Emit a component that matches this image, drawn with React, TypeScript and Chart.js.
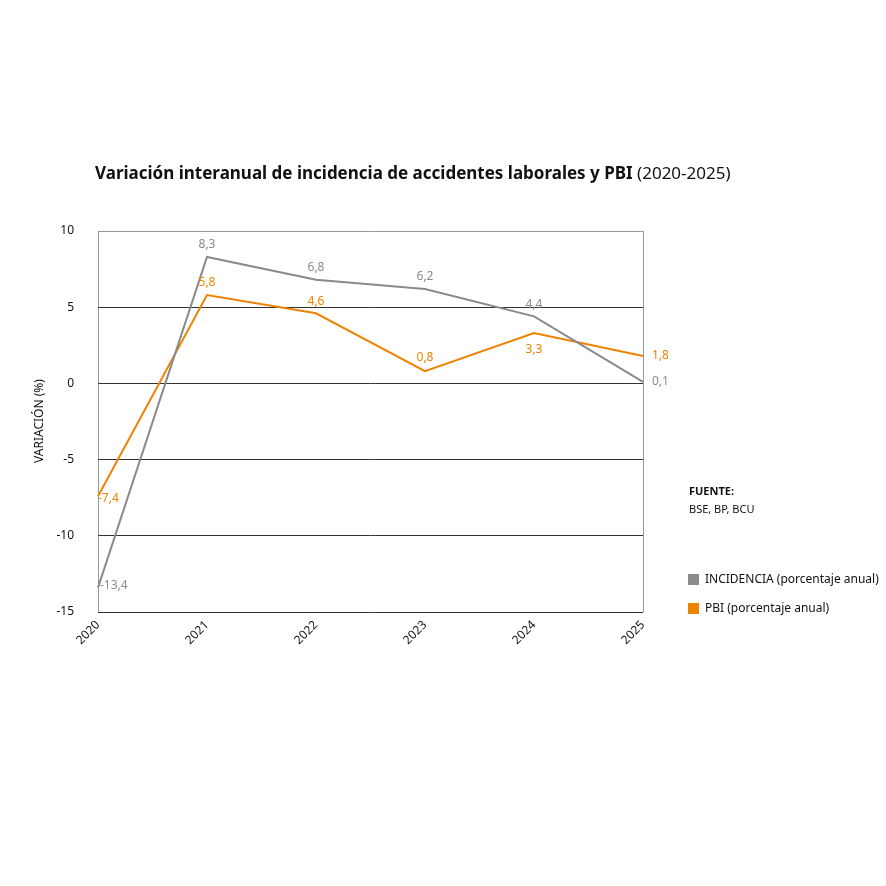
import React, { useEffect, useRef } from "react";
import { Chart, registerables } from "chart.js";
Chart.register(...registerables);

const years = ["2020", "2021", "2022", "2023", "2024", "2025"];
const incidencia = [-13.4, 8.3, 6.8, 6.2, 4.4, 0.1];
const pbi = [-7.4, 5.8, 4.6, 0.8, 3.3, 1.8];
const yTicks = [10, 5, 0, -5, -10, -15];

const GRAY = "#8a8a8a";
const ORANGE = "#ef8200";
const FONT = "'Noto Sans', sans-serif";
// label offsets [dx, dy, align]
const incOff: [number, number, CanvasTextAlign][] = [[2, -2, "left"], [0, -12, "center"], [0, -12, "center"], [0, -12, "center"], [0, -12, "center"], [9, 0, "left"]];
const pbiOff: [number, number, CanvasTextAlign][] = [[0, 2, "left"], [0, -12, "center"], [0, -12, "center"], [0, -14, "center"], [0, 16, "center"], [9, 0, "left"]];

const fmt = (v: number) => v.toFixed(1).replace(".", ",");

const overlay = {
  id: "overlay",
  afterDraw(chart: any) {
    const ctx = chart.ctx;
    ctx.save();
    // title
    ctx.textBaseline = "middle";
    ctx.textAlign = "left";
    ctx.fillStyle = "#111";
    ctx.font = `bold 17px ${FONT}`;
    const t1 = "Variación interanual de incidencia de accidentes laborales y PBI ";
    ctx.fillText(t1, 95, 174);
    const w = ctx.measureText(t1).width;
    ctx.font = `17px ${FONT}`;
    ctx.fillText("(2020-2025)", 95 + w, 174);
    // y title
    ctx.save();
    ctx.translate(40, 421);
    ctx.rotate(-Math.PI / 2);
    ctx.textAlign = "center";
    ctx.font = `12px ${FONT}`;
    ctx.fillStyle = "#111";
    ctx.fillText("VARIACIÓN (%)", 0, 0);
    ctx.restore();
    // data labels
    ctx.font = `12px ${FONT}`;
    const sets: [number, any[], string][] = [[0, incOff, GRAY], [1, pbiOff, ORANGE]];
    for (const [di, off, col] of sets) {
      const meta = chart.getDatasetMeta(di);
      const data = chart.data.datasets[di].data as number[];
      meta.data.forEach((pt: any, i: number) => {
        const [dx, dy, al] = off[i];
        ctx.fillStyle = col;
        ctx.textAlign = al;
        ctx.fillText(fmt(data[i]), pt.x + dx, pt.y + dy);
      });
    }
    // source
    ctx.textAlign = "left";
    ctx.fillStyle = "#111";
    ctx.font = `bold 11px ${FONT}`;
    ctx.fillText("FUENTE:", 689, 492);
    ctx.font = `11px ${FONT}`;
    ctx.fillText("BSE, BP, BCU", 689, 510);
    // legend
    ctx.font = `12px ${FONT}`;
    ctx.fillStyle = GRAY;
    ctx.fillRect(688, 574, 11, 11);
    ctx.fillStyle = "#111";
    ctx.fillText("INCIDENCIA (porcentaje anual)", 705, 580);
    ctx.fillStyle = ORANGE;
    ctx.fillRect(688, 603, 11, 11);
    ctx.fillStyle = "#111";
    ctx.fillText("PBI (porcentaje anual)", 705, 609);
    ctx.restore();
  },
};

export default function App() {
  const ref = useRef<HTMLCanvasElement>(null);
  useEffect(() => {
    const chart = new Chart(ref.current!, {
      type: "line",
      data: {
        labels: years,
        datasets: [
          { data: incidencia, borderColor: GRAY, borderWidth: 2, pointRadius: 0, tension: 0 },
          { data: pbi, borderColor: ORANGE, borderWidth: 2, pointRadius: 0, tension: 0 },
        ],
      },
      options: {
        animation: false,
        responsive: false,
        layout: { padding: { left: 0, top: 231, right: 886 - 643, bottom: 0 } },
        plugins: { legend: { display: false }, tooltip: { enabled: false } },
        scales: {
          x: {
            offset: false,
            afterFit: (s: any) => { s.height = 886 - 612; },
            grid: {
              color: (c: any) => (c.index === 0 || c.index === 5 ? "#999" : "transparent"),
              tickLength: 4,
              drawTicks: false,
            },
            border: { display: false },
            ticks: { minRotation: 45, maxRotation: 45, color: "#111", font: { family: FONT, size: 12 }, padding: 6 },
          },
          y: {
            min: -15,
            max: 10,
            afterFit: (s: any) => { s.width = 98; },
            afterBuildTicks: (s: any) => { s.ticks = yTicks.map((v) => ({ value: v })); },
            grid: {
              color: (c: any) => (c.tick && c.tick.value === 10 ? "#999" : "#333"),
              lineWidth: 1,
              drawTicks: false,
            },
            border: { display: false },
            ticks: { color: "#111", font: { family: FONT, size: 12 }, padding: 24 },
          },
        },
      },
      plugins: [overlay],
    });
    return () => chart.destroy();
  }, []);
  return (
    <div style={{ position: "absolute", left: 0, top: 0, width: 886, height: 886, background: "#fff" }}>
      <canvas ref={ref} width={886} height={886} style={{ width: 886, height: 886 }} />
    </div>
  );
}
